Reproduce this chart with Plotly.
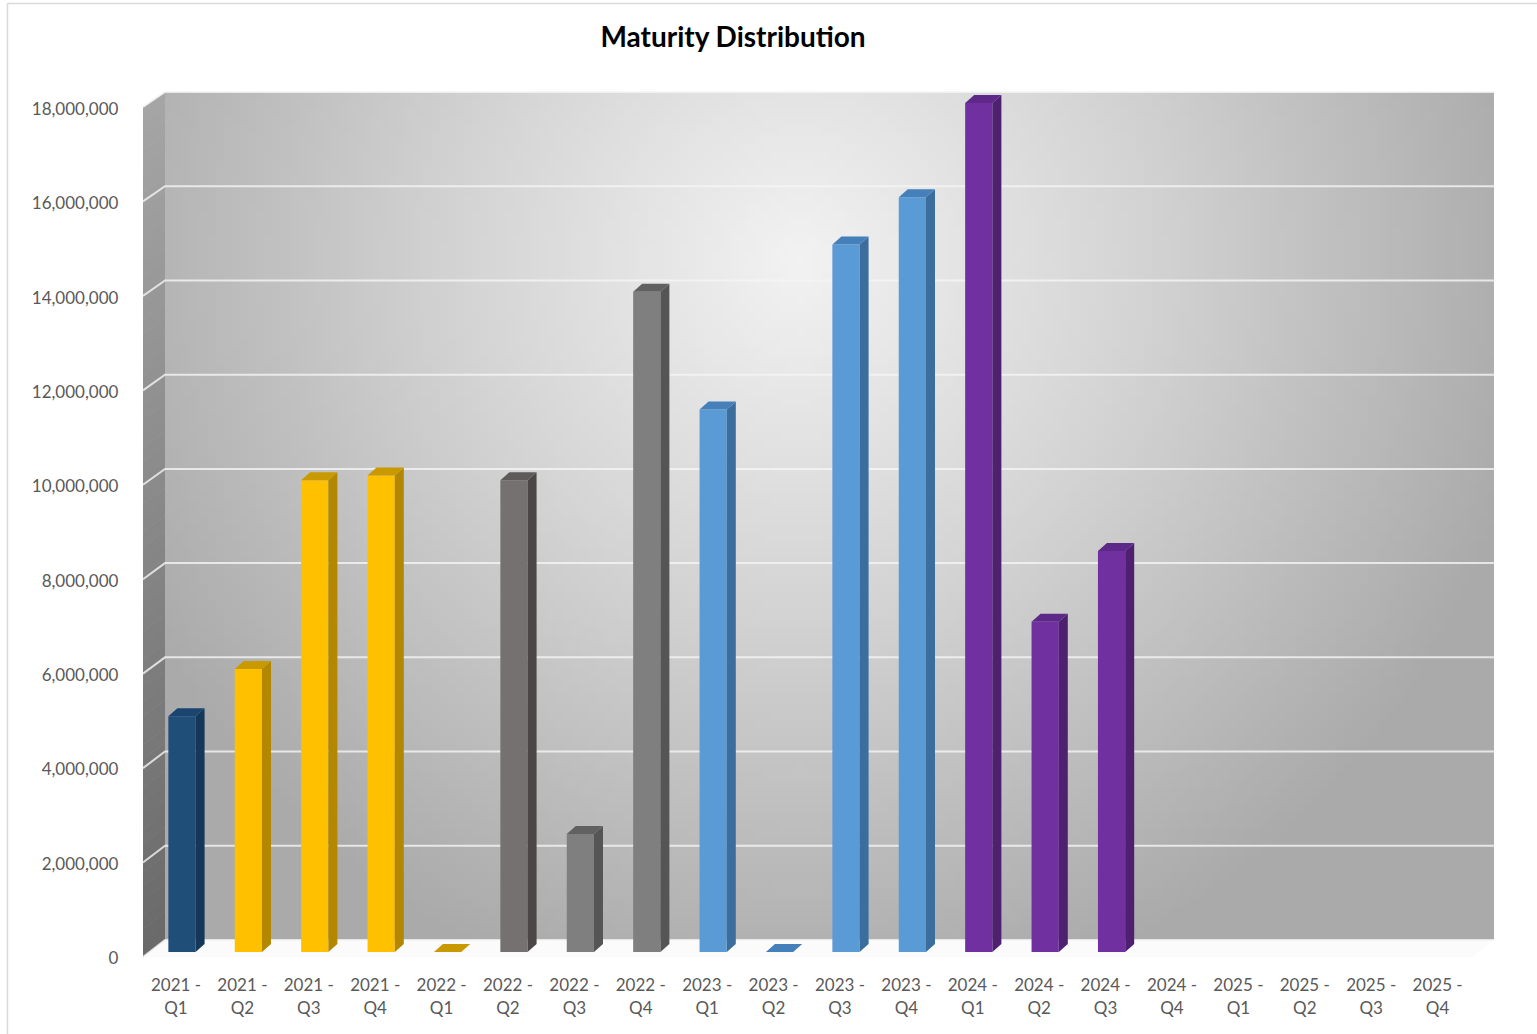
import numpy as np
import plotly.graph_objects as go

# ---------------- data ----------------
categories = ["2021 - Q1", "2021 - Q2", "2021 - Q3", "2021 - Q4",
              "2022 - Q1", "2022 - Q2", "2022 - Q3", "2022 - Q4",
              "2023 - Q1", "2023 - Q2", "2023 - Q3", "2023 - Q4",
              "2024 - Q1", "2024 - Q2", "2024 - Q3", "2024 - Q4",
              "2025 - Q1", "2025 - Q2", "2025 - Q3", "2025 - Q4"]
values = [5000000, 6000000, 10000000, 10100000,
          0, 10000000, 2500000, 14000000,
          11500000, 0, 15000000, 16000000,
          18000000, 7000000, 8500000, None,
          None, None, None, None]
color_group = ["navy", "gold", "gold", "gold",
               "gold", "darkgray", "gray", "gray",
               "blue", "blue", "blue", "blue",
               "purple", "purple", "purple", None,
               None, None, None, None]
y_ticks = [0, 2000000, 4000000, 6000000, 8000000, 10000000,
           12000000, 14000000, 16000000, 18000000]
title_text = "Maturity Distribution"

# ---------------- style ----------------
W, H = 1537, 1034
palette = {  # front, side, top
    "navy": ("#1F4E79", "#15375A", "#1B4470"),
    "gold": ("#FFC000", "#B38700", "#C99A00"),
    "darkgray": ("#767171", "#4B4747", "#5E5A5A"),
    "gray": ("#7F7F7F", "#555555", "#616161"),
    "blue": ("#5B9BD5", "#3B6E9C", "#4580BA"),
    "purple": ("#7030A0", "#4D2070", "#5E2888"),
}
FONT = "Lato"
LABEL_COLOR = "#595959"

# pixel geometry of the 3D box
wall_l, wall_r, wall_t, wall_b = 165, 1494, 92, 940      # back wall
front_l, front_b0, front_t = 143, 957, 107               # side wall front edge
plane_l, plane_r = 142.8, 1470.8                          # bar plane x extent
plane_b, plane_t = 952, 103                               # bar plane (0 .. max)
ymax = y_ticks[-1]
head = 1.04                                               # headroom for 3D tops
n = len(categories)
cat_px = (plane_r - plane_l) / n

bar_w = 0.41
bar_shift = 0.09
depth_dx = 9 / cat_px
depth_dy = 8 * ymax / (plane_b - plane_t)

fig = go.Figure()

# ---- background: back wall radial gradient (heatmap in pixel coords) ----
nx, ny = 160, 100
xs = np.linspace(wall_l, wall_r, nx + 1)
ys = np.linspace(wall_t, wall_b, ny + 1)
xc = (xs[:-1] + xs[1:]) / 2
yc = (ys[:-1] + ys[1:]) / 2
XX, YY = np.meshgrid(xc, yc)
Z = np.sqrt(((XX - 800) / 740) ** 2 + ((YY - 260) / 760) ** 2)
fig.add_trace(go.Heatmap(
    x=xs, y=ys, z=Z, xaxis="x", yaxis="y",
    colorscale=[[0, "#F2F2F2"], [0.45, "#D4D4D4"], [1, "#AAAAAA"]],
    zmin=0, zmax=1.0, showscale=False, hoverinfo="skip"))

# side wall (vertical gradient as bands)
nb = 60
for k in range(nb):
    f0, f1 = k / nb, (k + 1) / nb
    yf0 = front_t + (front_b0 - front_t) * f0
    yf1 = front_t + (front_b0 - front_t) * f1
    yb0 = wall_t + (wall_b - wall_t) * f0
    yb1 = wall_t + (wall_b - wall_t) * f1
    g = int(166 - 60 * (f0 + f1) / 2)
    col = f"rgb({g},{g},{g})"
    fig.add_trace(go.Scatter(
        x=[front_l, wall_l, wall_l, front_l, front_l],
        y=[yf0, yb0, yb1 + 0.6, yf1 + 0.6, yf0],
        fill="toself", fillcolor=col, line=dict(width=0),
        mode="lines", xaxis="x", yaxis="y", hoverinfo="skip", showlegend=False))

# floor
fig.add_trace(go.Scatter(
    x=[front_l, wall_l, wall_r, wall_r - (wall_l - front_l), front_l],
    y=[front_b0, wall_b, wall_b, front_b0, front_b0],
    fill="toself", fillcolor="#FBFBFB", line=dict(width=0),
    mode="lines", xaxis="x", yaxis="y", hoverinfo="skip", showlegend=False))

# gridlines on back wall and side wall
gx, gy = [], []
for t in y_ticks:
    yb = wall_b - (wall_b - wall_t) * t / ymax
    yf = front_b0 - (front_b0 - front_t) * t / ymax
    gx += [front_l, wall_l, wall_r, None]
    gy += [yf, yb, yb, None]
fig.add_trace(go.Scatter(
    x=gx, y=gy, mode="lines", line=dict(color="rgba(245,245,245,0.8)", width=2),
    xaxis="x", yaxis="y", hoverinfo="skip", showlegend=False))

# ---- bars (front faces) ----
xpos = list(range(n))
fronts = [palette[g][0] if g else "rgba(0,0,0,0)" for g in color_group]
fig.add_trace(go.Bar(
    x=[p + bar_shift for p in xpos], y=values, width=bar_w,
    marker=dict(color=fronts, line=dict(width=0)),
    xaxis="x2", yaxis="y2", showlegend=False,
    hovertext=categories, hoverinfo="text+y"))

# side and top faces derived from values
for p, v, g in zip(xpos, values, color_group):
    if v is None:
        continue
    _, side, top = palette[g]
    xl = p + bar_shift - bar_w / 2
    xr = p + bar_shift + bar_w / 2
    if v > 0:
        fig.add_trace(go.Scatter(
            x=[xr, xr + depth_dx, xr + depth_dx, xr, xr],
            y=[0, depth_dy, v + depth_dy, v, 0],
            fill="toself", fillcolor=side, line=dict(width=0), mode="lines",
            xaxis="x2", yaxis="y2", hoverinfo="skip", showlegend=False))
    fig.add_trace(go.Scatter(
        x=[xl, xl + depth_dx, xr + depth_dx, xr, xl],
        y=[v, v + depth_dy, v + depth_dy, v, v],
        fill="toself", fillcolor=top, line=dict(width=0), mode="lines",
        xaxis="x2", yaxis="y2", hoverinfo="skip", showlegend=False))

ticktext = [c.replace(" - ", " -<br>") for c in categories]
top_px = plane_b - (plane_b - plane_t) * head

fig.update_layout(
    width=W, height=H, autosize=False,
    margin=dict(l=0, r=0, t=0, b=0, pad=0, autoexpand=False),
    paper_bgcolor="white", plot_bgcolor="rgba(0,0,0,0)",
    showlegend=False,
    font=dict(family=FONT, color=LABEL_COLOR),
    xaxis=dict(domain=[0, 1], range=[0, W], visible=False, fixedrange=True,
               automargin=False),
    yaxis=dict(domain=[0, 1], range=[H, 0], visible=False, fixedrange=True,
               automargin=False),
    xaxis2=dict(domain=[plane_l / W, plane_r / W], range=[-0.5, n - 0.5],
                anchor="y2", tickvals=xpos, ticktext=ticktext, automargin=False,
                showgrid=False, zeroline=False, showline=False,
                ticks="outside", ticklen=18, tickcolor="rgba(0,0,0,0)",
                tickfont=dict(family=FONT, size=17, color=LABEL_COLOR)),
    yaxis2=dict(domain=[1 - plane_b / H, 1 - top_px / H], range=[0, ymax * head],
                anchor="x2", tickvals=y_ticks, tickformat=",d", automargin=False,
                showgrid=False, zeroline=False, showline=False,
                ticks="outside", ticklen=20, tickcolor="rgba(0,0,0,0)",
                ticklabelshift=6,
                tickfont=dict(family=FONT, size=17, color=LABEL_COLOR)),
    title=dict(text="<b>" + title_text + "</b>", x=733 / W, xanchor="center",
               y=1 - 37 / H, yanchor="middle", automargin=False,
               font=dict(family=FONT, size=28, color="#000000")),
    shapes=[
        dict(type="line", xref="x", yref="y", x0=7.5, x1=W, y0=3.5, y1=3.5,
             line=dict(color="#D9D9D9", width=1.5)),
        dict(type="line", xref="x", yref="y", x0=7.5, x1=7.5, y0=3.5, y1=H,
             line=dict(color="#D9D9D9", width=1.5)),
    ],
)

fig.write_html("out.html", config={"displayModeBar": False},
               post_script="document.body.style.margin='0';document.body.style.overflow='hidden';")
